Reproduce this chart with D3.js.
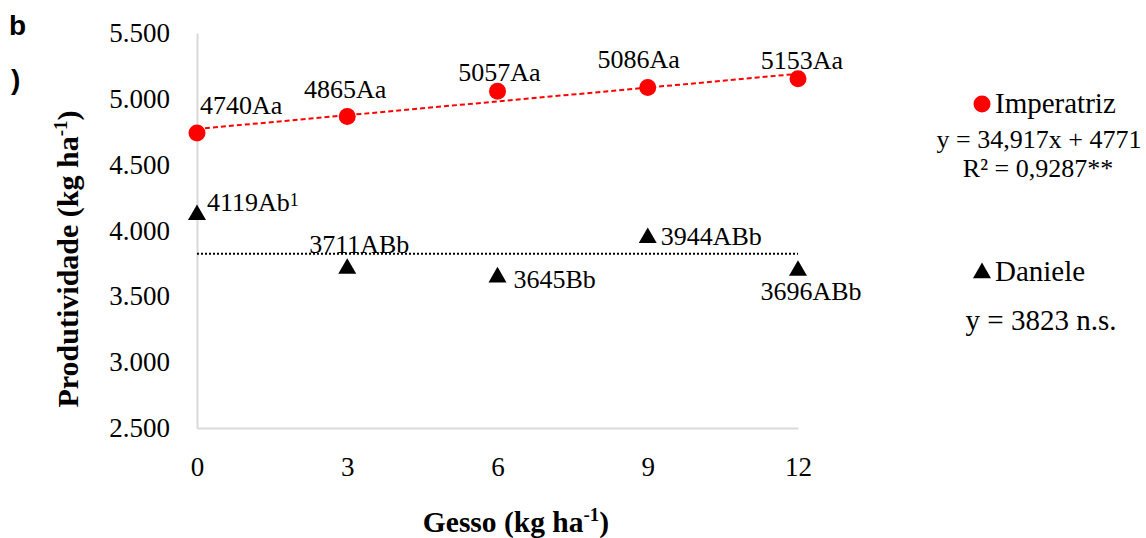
<!DOCTYPE html>
<html>
<head>
<meta charset="utf-8">
<script src="https://cdn.jsdelivr.net/npm/d3@7"></script>
<style>
  body { margin: 0; background: #fff; }
  svg text { font-family: "Liberation Serif", "Times New Roman", serif; fill: #000; }
</style>
</head>
<body>
<script>
// values
const doses = [0, 3, 6, 9, 12];
const imperatriz = [4740, 4865, 5057, 5086, 5153];
const daniele = [4119, 3711, 3645, 3944, 3696];
const imperatrizLabels = ['4740Aa', '4865Aa', '5057Aa', '5086Aa', '5153Aa'];
const danieleLabels = ['4119Ab', '3711ABb', '3645Bb', '3944ABb', '3696ABb'];
const danieleNotes = ['1', '', '', '', ''];
const yTicks = [2500, 3000, 3500, 4000, 4500, 5000, 5500];
const fitSlope = 34.917;
const fitIntercept = 4771;
const danieleMean = 3823;

// label placement next to each point: [dx, dy, anchor]
const impLabelPos = [[3, -19, 'start'], [-2, -19, 'middle'], [2, -10, 'middle'], [-9, -20, 'middle'], [4, -10, 'middle']];
const danLabelPos = [[10, -4, 'start'], [12, -16, 'middle'], [16, 11, 'start'], [13, 7, 'start'], [13, 29, 'middle']];

const width = 1146, height = 538;
const plot = { left: 197, right: 798, top: 33, bottom: 428 };

const svg = d3.select('body').append('svg')
  .attr('width', width)
  .attr('height', height);

const x = d3.scaleLinear().domain([0, 12]).range([plot.left, plot.right]);
const y = d3.scaleLinear().domain([2500, 5500]).range([plot.bottom, plot.top]);

const ptBr = d3.formatLocale({ decimal: ',', thousands: '.', grouping: [3], currency: ['R$', ''] });
const fmt = ptBr.format(',');

// axes
const yAxis = svg.append('g')
  .attr('transform', `translate(${plot.left},0)`)
  .call(d3.axisLeft(y).tickValues(yTicks).tickFormat(fmt).tickSize(0).tickPadding(27));
const xAxis = svg.append('g')
  .attr('transform', `translate(0,${plot.bottom})`)
  .call(d3.axisBottom(x).tickValues(doses).tickSize(0).tickPadding(29));

[xAxis, yAxis].forEach(a => {
  a.select('.domain').attr('stroke', '#d9d9d9').attr('stroke-width', 2);
  a.selectAll('text')
    .style('font-family', '"Liberation Serif", serif')
    .style('font-size', '27px');
});

// axis titles
const yTitle = svg.append('text')
  .attr('transform', 'translate(78,259) rotate(-90)')
  .attr('text-anchor', 'middle')
  .style('font-size', '30px')
  .style('font-weight', 'bold');
yTitle.append('tspan').text('Produtividade (kg ha');
yTitle.append('tspan').attr('dy', -11).style('font-size', '19px').text('-1');
yTitle.append('tspan').attr('dy', 11).text(')');

const xTitle = svg.append('text')
  .attr('x', 516)
  .attr('y', 532)
  .attr('text-anchor', 'middle')
  .style('font-size', '29.5px')
  .style('font-weight', 'bold');
xTitle.append('tspan').text('Gesso (kg ha');
xTitle.append('tspan').attr('dy', -11).style('font-size', '19px').text('-1');
xTitle.append('tspan').attr('dy', 11).text(')');

// panel letter
svg.append('text').attr('x', 9).attr('y', 35)
  .style('font-family', '"Liberation Sans", Arial, sans-serif')
  .style('font-weight', 'bold').style('font-size', '28px').text('b');
svg.append('text').attr('x', 11).attr('y', 89)
  .style('font-family', '"Liberation Sans", Arial, sans-serif')
  .style('font-weight', 'bold').style('font-size', '28px').text(')');

// trend lines
const fitLine = d3.line().x(d => x(d)).y(d => y(fitSlope * d + fitIntercept));
svg.append('path')
  .attr('d', fitLine([0, 12]))
  .attr('fill', 'none')
  .attr('stroke', '#ff0000')
  .attr('stroke-width', 2)
  .attr('stroke-dasharray', '5,3');

svg.append('path')
  .attr('d', d3.line().x(d => x(d)).y(() => y(danieleMean))([0, 12]))
  .attr('fill', 'none')
  .attr('stroke', '#000')
  .attr('stroke-width', 2)
  .attr('stroke-dasharray', '2,2');

// points
svg.selectAll('.imp')
  .data(doses)
  .join('circle')
  .attr('class', 'imp')
  .attr('cx', d => x(d))
  .attr('cy', (d, i) => y(imperatriz[i]))
  .attr('r', 8.5)
  .attr('fill', '#ff0000');

const tri = d3.symbol().type(d3.symbolTriangle).size(140);
svg.selectAll('.dan')
  .data(doses)
  .join('path')
  .attr('class', 'dan')
  .attr('d', tri)
  .attr('transform', (d, i) => `translate(${x(d)},${y(daniele[i])})`)
  .attr('fill', '#000');

// data labels
svg.selectAll('.impLab')
  .data(doses)
  .join('text')
  .attr('class', 'impLab')
  .attr('x', (d, i) => x(d) + impLabelPos[i][0])
  .attr('y', (d, i) => y(imperatriz[i]) + impLabelPos[i][1])
  .attr('text-anchor', (d, i) => impLabelPos[i][2])
  .style('font-size', '26px')
  .text((d, i) => imperatrizLabels[i]);

const danLab = svg.selectAll('.danLab')
  .data(doses)
  .join('text')
  .attr('class', 'danLab')
  .attr('x', (d, i) => x(d) + danLabelPos[i][0])
  .attr('y', (d, i) => y(daniele[i]) + danLabelPos[i][1])
  .attr('text-anchor', (d, i) => danLabelPos[i][2])
  .style('font-size', '26px');
danLab.append('tspan').text((d, i) => danieleLabels[i]);
danLab.append('tspan')
  .attr('dy', -5)
  .style('font-size', '18px')
  .text((d, i) => danieleNotes[i]);

// legend
const leg = svg.append('g');
leg.append('circle').attr('cx', 982).attr('cy', 104).attr('r', 8.5).attr('fill', '#ff0000');
leg.append('text').attr('x', 995).attr('y', 113).style('font-size', '29px').text('Imperatriz');
leg.append('text').attr('x', 1039).attr('y', 148).attr('text-anchor', 'middle').style('font-size', '26px')
  .text(`y = ${ptBr.format('.3f')(fitSlope)}x + ${fitIntercept}`);
leg.append('text').attr('x', 1038).attr('y', 177).attr('text-anchor', 'middle').style('font-size', '26px')
  .text('R² = 0,9287**');
leg.append('path').attr('d', d3.symbol().type(d3.symbolTriangle).size(140))
  .attr('transform', 'translate(982,273)').attr('fill', '#000');
leg.append('text').attr('x', 995).attr('y', 281).style('font-size', '29px').text('Daniele');
leg.append('text').attr('x', 1041).attr('y', 330).attr('text-anchor', 'middle').style('font-size', '29px')
  .text(`y = ${danieleMean} n.s.`);
</script>
</body>
</html>
